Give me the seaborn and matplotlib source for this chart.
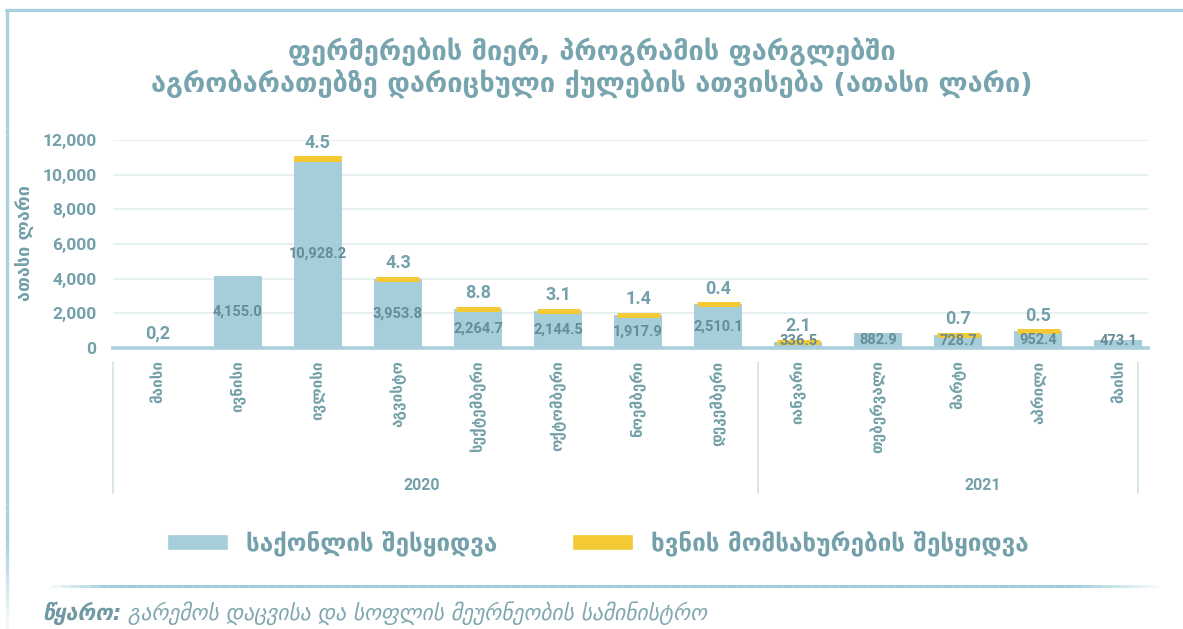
"""Stacked monthly bars: farmer use of agro-card points (thousand GEL)."""
import numpy as np
import pandas as pd
import matplotlib
matplotlib.use("Agg")
import matplotlib.pyplot as plt
from matplotlib.patches import Patch
from matplotlib.collections import LineCollection
import seaborn as sns


PERIODS = ["2020-05", "2020-06", "2020-07", "2020-08", "2020-09", "2020-10", "2020-11",
           "2020-12", "2021-01", "2021-02", "2021-03", "2021-04", "2021-05"]
MONTHS = ["მაისი", "ივნისი", "ივლისი", "აგვისტო", "სექტემბერი", "ოქტომბერი", "ნოემბერი",
          "დეკემბერი", "იანვარი", "თებერვალი", "მარტი", "აპრილი", "მაისი"]
YEARS = ["2020", "2021"]
GOODS = [0.2, 4155.0, 10928.2, 3953.8, 2264.7, 2144.5, 1917.9, 2510.1,
         336.5, 882.9, 728.7, 952.4, 473.1]
PLOWING = [0.0, 0.0, 4.5, 4.3, 8.8, 3.1, 1.4, 0.4, 2.1, 0.0, 0.7, 0.5, 0.0]
SERIES = ["საქონლის შესყიდვა", "ხვნის მომსახურების შესყიდვა"]

TITLE = ["ფერმერების მიერ, პროგრამის ფარგლებში",
         "აგრობარათებზე დარიცხული ქულების ათვისება (ათასი ლარი)"]
YLABEL = "ათასი ლარი"
SOURCE_HEAD = "წყარო:"
SOURCE_BODY = "გარემოს დაცვისა და სოფლის მეურნეობის სამინისტრო"

BLUE = "#a5cdda"
YELLOW = "#f3c934"
TEAL = "#73a0aa"
INNER = "#668c96"
GRID = "#e4eef1"
LINE = "#a9d0dc"

W, H = 1183, 629


def main():
    sns.set_theme(style="white")
    plt.rcParams["font.family"] = ["Roboto", "DejaVu Sans"]

    df = pd.DataFrame({"period": PERIODS, "goods": GOODS, "plowing": PLOWING})

    fig = plt.figure(figsize=(W / 100, H / 100), dpi=100)
    ax = fig.add_axes([113 / W, 1 - 348 / H, (1148 - 113) / W, 208 / H])

    sns.barplot(data=df, x="period", y="goods", order=PERIODS, color=BLUE,
                saturation=1, width=0.6, linewidth=0, errorbar=None, ax=ax)

    # plowing values are tiny next to the goods; a thick edge keeps them visible
    plow = df[df["plowing"] > 0]
    sns.barplot(data=plow, x="period", y="plowing", order=PERIODS, color=YELLOW,
                saturation=1, width=0.6 - 5 / 80, bottom=plow["goods"].to_numpy(),
                edgecolor=YELLOW, linewidth=3.6, errorbar=None, ax=ax)

    ax.set_xlim(-0.56, 12.37)
    ax.set_ylim(0, 12000)
    ax.set_yticks(np.arange(0, 12001, 2000))
    ax.set_yticklabels([f"{v:,}" for v in range(0, 12001, 2000)])
    ax.set_xticks(range(len(MONTHS)))
    ax.set_xticklabels(MONTHS, rotation=90, fontsize=11, fontweight="bold",
                       color=TEAL, family=["DejaVu Sans"])
    ax.tick_params(axis="y", length=0, pad=12, labelsize=12.5, labelcolor=TEAL)
    ax.tick_params(axis="x", length=0, pad=9)
    for lbl in ax.get_yticklabels():
        lbl.set_fontweight("bold")
    ax.set_xlabel("")
    ax.set_ylabel("")
    ax.yaxis.grid(True, color=GRID, lw=1.3)
    ax.set_axisbelow(True)
    for side in ["top", "left", "right"]:
        ax.spines[side].set_visible(False)
    ax.spines["bottom"].set_color(LINE)
    ax.spines["bottom"].set_linewidth(2.6)

    # value labels
    for i, (g, p) in enumerate(zip(GOODS, PLOWING)):
        if g >= 100:
            ax.text(i, max(g / 2, 400), f"{g:,.1f}", ha="center", va="center",
                    fontsize=10.5, fontweight="bold", color=INNER)
        else:
            ax.annotate(f"{g:.1f}".replace(".", ","), (i, g), xytext=(0, 4),
                        textcoords="offset points", ha="center", va="bottom",
                        fontsize=13, fontweight="bold", color=TEAL)
        if p > 0:
            ax.annotate(f"{p:.1f}", (i, g + p), xytext=(0, 5),
                        textcoords="offset points", ha="center", va="bottom",
                        fontsize=13, fontweight="bold", color=TEAL)

    # year groups under the month labels
    xt = ax.get_xaxis_transform()
    for x in [-0.56, 7.5, 12.24]:
        ax.plot([x, x], [-0.067, -0.697], transform=xt, color="#cfe3ea",
                lw=1.2, clip_on=False)
    for x, year in zip([3.3, 10.3], YEARS):
        ax.text(x, -0.66, year, transform=xt, ha="center", va="center",
                fontsize=11.5, fontweight="bold", color=TEAL)

    # titles and axis label
    for y, line in zip([52, 84], TITLE):
        fig.text(0.5, 1 - y / H, line, ha="center", va="center", fontsize=19.5,
                 fontweight="bold", color="#77a4af", family=["DejaVu Sans"])
    fig.text(25 / W, 1 - 243 / H, YLABEL, rotation=90, ha="center", va="center",
             fontsize=13, fontweight="bold", color=TEAL, family=["DejaVu Sans"])

    handles = [Patch(facecolor=BLUE, label=SERIES[0]),
               Patch(facecolor=YELLOW, label=SERIES[1])]
    fig.legend(handles=handles, loc="center", bbox_to_anchor=(598 / W, 1 - 543 / H),
               ncol=2, frameon=False, handlelength=2.5, handleheight=0.65,
               handletextpad=0.75, columnspacing=3.1,
               prop={"family": "DejaVu Sans", "weight": "bold", "size": 17.5},
               labelcolor=TEAL)

    # decorative frame
    fig.add_artist(plt.Line2D([6 / W, 1], [1 - 10 / H] * 2, color=LINE, lw=2.4))
    ys = np.linspace(10, H, 80)
    segs = [[(7 / W, 1 - a / H), (7 / W, 1 - b / H)] for a, b in zip(ys[:-1], ys[1:])]
    alphas = np.clip((H - ys[:-1]) / 90, 0.15, 1)
    cols = [(0.66, 0.82, 0.86, a) for a in alphas]
    fig.add_artist(LineCollection(segs, colors=cols, lw=2.4, transform=fig.transFigure))
    xs = np.linspace(42, 1158, 120)
    segs = [[(a / W, 1 - 586 / H), (b / W, 1 - 586 / H)] for a, b in zip(xs[:-1], xs[1:])]
    alphas = np.clip(np.minimum((xs[:-1] - 42) / 60, (1158 - xs[:-1]) / 90), 0, 1)
    cols = [(0.62, 0.80, 0.85, a) for a in alphas]
    fig.add_artist(LineCollection(segs, colors=cols, lw=2.2, transform=fig.transFigure))

    # source line
    head = fig.text(42 / W, 1 - 613 / H, SOURCE_HEAD, ha="left", va="center",
                    fontsize=15.5, fontweight="bold", style="italic", color="#6e98a2",
                    family=["DejaVu Sans"])
    fig.canvas.draw()
    bb = head.get_window_extent()
    fig.text((bb.x1 + 7) / W, 1 - 613 / H, SOURCE_BODY, ha="left", va="center",
             fontsize=15.5, style="italic", color="#7fa6af", family=["DejaVu Sans"])

    fig.savefig("out.png", dpi=100)
    plt.close(fig)


if __name__ == "__main__":
    main()
